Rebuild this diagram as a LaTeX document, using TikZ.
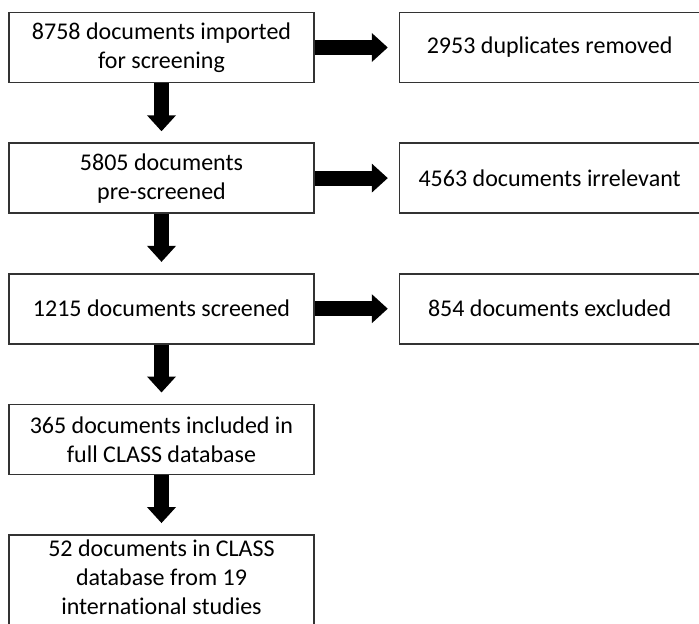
\documentclass[tikz,border=0pt]{standalone}
\usepackage{fontspec}
\setmainfont{Carlito}[Ligatures=CommonOff]
\usetikzlibrary{arrows.meta, positioning}

\begin{document}
\begin{tikzpicture}[x=1pt, y=-1pt, node distance=59pt and 84pt,
    stage/.style={rectangle, draw=black!80, line width=1.6pt, fill=white, align=center,
        minimum width=305pt, minimum height=70pt, inner sep=0pt,
        font=\fontsize{24}{29}\selectfont},
    outcome/.style={stage, minimum width=300pt},
    fat/.style={-{Triangle[width=28pt, length=16pt]}, line width=15pt, shorten >=11pt}]
    \useasboundingbox (0,0) rectangle (699,624);
    \clip (0,0) rectangle (699,624);
    \node[stage] (imported) at (161.5,47.5) {8758 documents imported\\for screening};
    \node[outcome, right=of imported] (duplicates) {2953 duplicates removed};
    \node[stage, below=of imported] (prescreen) {5805 documents\\pre-screened};
    \node[outcome, right=of prescreen] (irrelevant) {4563 documents irrelevant};
    \node[stage, below=of prescreen] (screened) {1215 documents screened};
    \node[outcome, right=of screened] (excluded) {854 documents excluded};
    \node[stage, below=of screened] (included) {365 documents included in\\full CLASS database};
    \node[stage, below=of included, minimum height=104pt, text depth=20pt] (final) {52 documents in CLASS\\database from 19\\international studies};

    \draw[fat] (imported) -- (duplicates);
    \draw[fat] (prescreen) -- (irrelevant);
    \draw[fat] (screened) -- (excluded);
    \draw[fat] (imported) -- (prescreen);
    \draw[fat] (prescreen) -- (screened);
    \draw[fat] (screened) -- (included);
    \draw[fat] (included) -- (final);
\end{tikzpicture}
\end{document}
